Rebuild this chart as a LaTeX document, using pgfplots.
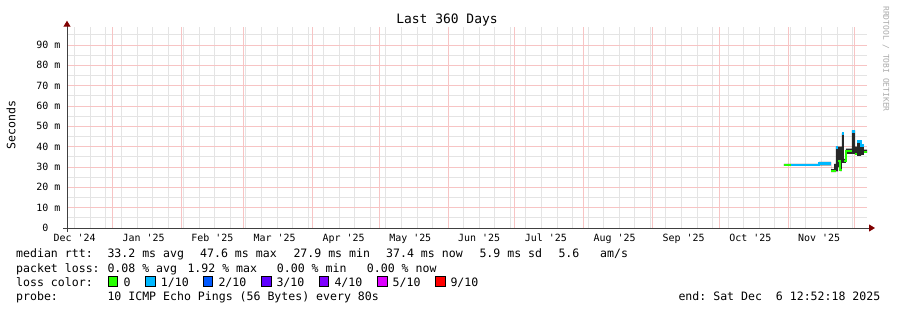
\documentclass[border=0pt]{standalone}
\usepackage{fontspec}
\setmonofont{DejaVu Sans Mono}
\renewcommand*\familydefault{\ttdefault}
\usepackage{pgfplots}
\pgfplotsset{compat=1.18}
\usetikzlibrary{arrows.meta}
\definecolor{mgrid}{RGB}{247,196,196}
\definecolor{gridc}{RGB}{228,228,228}
\definecolor{axisc}{RGB}{64,64,64}
\definecolor{arrowc}{RGB}{128,0,0}
\definecolor{smoke}{RGB}{40,40,40}
\definecolor{wm}{RGB}{170,170,170}
\definecolor{l0}{HTML}{26FF00}
\definecolor{l1}{HTML}{00B8FF}
\definecolor{l2}{HTML}{0059FF}
\definecolor{l3}{HTML}{5E00FF}
\definecolor{l4}{HTML}{7E00FF}
\definecolor{l5}{HTML}{DD00FF}
\definecolor{l9}{HTML}{FF0000}
\newcommand\legfont{\fontsize{11.6}{14}\selectfont}
\newcommand\axfont{\fontsize{10}{12}\selectfont}
\tikzset{gridline/.style={line width=0.8bp, solid}}

\begin{document}
\begin{tikzpicture}
\path (0bp,0bp) rectangle (897bp,310bp);
\begin{axis}[
  at={(67bp,82bp)}, anchor=south west,
  scale only axis, width=800bp, height=201.3bp,
  xmin=0, xmax=360, ymin=0, ymax=99,
  axis x line=bottom, axis y line=left,
  axis on top,
  x axis line style={draw=axisc, line width=1bp, shorten <=-4bp, shorten >=-8bp, -{Triangle[length=6bp,width=7bp,color=arrowc]}},
  y axis line style={draw=axisc, line width=1bp, shorten <=-4bp, shorten >=-6bp, -{Triangle[length=6bp,width=7bp,color=arrowc]}},
  xtick={3.464,34.464,65.464,93.464,124.464,154.464,185.464,215.464,246.464,277.464,307.464,338.464},
  xticklabels={Dec '24,Jan '25,Feb '25,Mar '25,Apr '25,May '25,Jun '25,Jul '25,Aug '25,Sep '25,Oct '25,Nov '25},
  ytick={0,10,...,90},
  yticklabels={0\hphantom{\ m},10 m,20 m,30 m,40 m,50 m,60 m,70 m,80 m,90 m},
  major tick length=0pt, minor tick length=0pt,
  xticklabel style={font=\axfont, anchor=base, inner sep=0pt, yshift=-13.5bp},
  yticklabel style={font=\axfont, anchor=east, inner sep=0pt, xshift=-6.5bp},
  unbounded coords=jump,
]
% grid: weekly (Sundays) and every 5 ms in grey, month starts and every 10 ms in red
\pgfplotsinvokeforeach{3.464,10.464,...,353.5}{\addplot[gridline, draw=gridc] coordinates {(#1,0) (#1,99)};}
\pgfplotsinvokeforeach{5,15,...,95}{\addplot[gridline, draw=gridc] coordinates {(0,#1) (360,#1)};}
\pgfplotsinvokeforeach{20.464,51.464,79.464,110.464,140.464,171.464,201.464,232.464,263.464,293.464,324.464,354.464}{\addplot[gridline, draw=mgrid] coordinates {(#1,0) (#1,99)};}
\pgfplotsinvokeforeach{10,20,...,90}{\addplot[gridline, draw=mgrid] coordinates {(0,#1) (360,#1)};}
% smoke: spread of pings (upper edge forward, lower edge back)
\addplot[fill=smoke, draw=none] coordinates {
 (322.6,31.5) (338.4,31.5) (338.4,32.5) (343.9,32.5) (343.9,29.0) (345.2,29.0)
 (345.2,31.5) (346.0,31.5) (346.0,40.0) (347.0,40.0) (347.8,40.0) (348.7,40.0)
 (348.7,46.5) (349.6,46.5) (349.6,34.0) (350.5,34.0) (350.5,39.0) (353.2,39.0)
 (353.2,48.0) (354.6,48.0) (354.6,40.0) (355.5,40.0) (355.5,43.0) (357.3,43.0)
 (357.3,41.0) (358.6,41.0) (358.6,38.5) (360.0,38.5)
 (360.0,37.0) (358.6,37.0) (358.6,36.0) (357.3,36.0) (357.3,35.5) (355.5,35.5)
 (355.5,36.0) (354.6,36.0) (354.6,36.5) (353.2,36.5) (350.5,36.5) (350.5,32.0)
 (349.6,32.0) (348.7,32.0) (348.7,28.0) (347.8,28.0) (347.8,30.0) (347.0,30.0)
 (347.0,27.8) (346.0,27.8) (346.0,27.5) (345.2,27.5) (343.9,27.5) (343.9,30.8)
 (338.4,30.8) (338.4,30.5) (322.6,30.5)
} -- cycle;
% median rtt, coloured by packet loss
\addplot[draw=l0, line width=2.4bp] coordinates {
 (322.6,31) (326,31) (326,nan)
 (343.9,28) (346.0,28) (346.0,nan)
 (347.0,33) (347.8,33) (347.8,28.5) (348.7,28.5) (348.7,nan)
 (349.6,33) (350.5,33) (350.5,38) (353.2,38) (353.2,nan)
 (354.6,36.5) (355.5,36.5) (355.5,nan)
 (358.6,37.5) (360,37.5)
};
\addplot[draw=l1, line width=2.4bp] coordinates {
 (326,31) (338.4,31) (338.4,31.8) (343.9,31.8) (343.9,nan)
 (346.0,39.5) (347.0,39.5) (347.0,nan)
 (348.7,46.5) (349.6,46.5) (349.6,nan)
 (353.2,47.5) (354.6,47.5) (354.6,nan)
 (355.5,42.5) (357.3,42.5) (357.3,40.5) (358.6,40.5)
};
\end{axis}
% title, unit label, watermark
\node[anchor=base, font=\fontsize{13}{15}\selectfont] at (447bp,286bp) {Last 360 Days};
\node[rotate=90, font=\legfont] at (11bp,185bp) {Seconds};
\node[rotate=-90, font=\fontsize{8}{9}\selectfont, text=wm] at (886bp,251bp) {RRDTOOL / TOBI OETIKER};
% legend rows
\begin{scope}[every node/.style={anchor=base west, inner sep=0pt, font=\legfont}]
\node at (16bp,52bp) {median rtt:};
\node at (107.3bp,52bp) {33.2 ms avg};
\node at (200bp,52bp) {47.6 ms max};
\node at (293.3bp,52bp) {27.9 ms min};
\node at (386bp,52bp) {37.4 ms now};
\node at (479.3bp,52bp) {5.9 ms sd};
\node at (558.3bp,52bp) {5.6};
\node at (600bp,52bp) {am/s};
\node at (16bp,38bp) {packet loss:};
\node at (107.3bp,38bp) {0.08 \% avg};
\node at (187.3bp,38bp) {1.92 \% max};
\node at (276.7bp,38bp) {0.00 \% min};
\node at (366.7bp,38bp) {0.00 \% now};
\node at (16bp,24bp) {loss color:};
\node at (123.3bp,24bp) {0};
\node at (160.7bp,24bp) {1/10};
\node at (218.3bp,24bp) {2/10};
\node at (276.3bp,24bp) {3/10};
\node at (334.3bp,24bp) {4/10};
\node at (392.5bp,24bp) {5/10};
\node at (450.3bp,24bp) {9/10};
\node at (16bp,10bp) {probe:};
\node at (107.3bp,10bp) {10 ICMP Echo Pings (56 Bytes) every 80s};
\node[anchor=base east] at (880.5bp,10bp) {end: Sat Dec\ \ 6 12:52:18 2025};
\end{scope}
\begin{scope}[line width=0.8bp, draw=black]
\filldraw[fill=l0] (108.3bp,24bp) rectangle ++(9.5bp,9.5bp);
\filldraw[fill=l1] (145.7bp,24bp) rectangle ++(9.5bp,9.5bp);
\filldraw[fill=l2] (203.3bp,24bp) rectangle ++(9.5bp,9.5bp);
\filldraw[fill=l3] (261.7bp,24bp) rectangle ++(9.5bp,9.5bp);
\filldraw[fill=l4] (319.3bp,24bp) rectangle ++(9.5bp,9.5bp);
\filldraw[fill=l5] (377.7bp,24bp) rectangle ++(9.5bp,9.5bp);
\filldraw[fill=l9] (435.7bp,24bp) rectangle ++(9.5bp,9.5bp);
\end{scope}
\end{tikzpicture}
\end{document}
